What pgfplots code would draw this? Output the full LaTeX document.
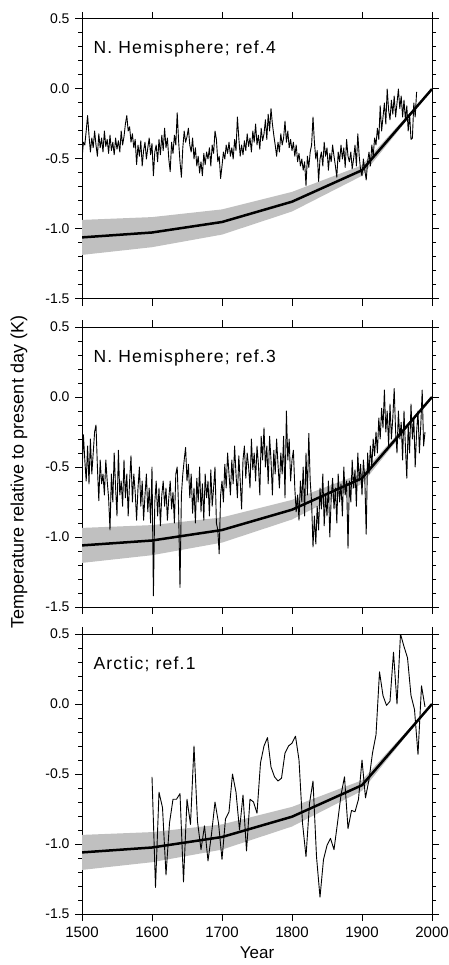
\documentclass[border=0pt]{standalone}
\usepackage{fontspec}
\setmainfont{Liberation Sans}
\newfontfamily\tagfont{Liberation Sans}[LetterSpace=7]
\usepackage{pgfplots}
\pgfplotsset{compat=1.18}
\definecolor{bandgray}{RGB}{192,192,192}

\pgfplotsset{
  panel/.style={
    scale only axis, width=350pt, height=280pt,
    anchor=north west,
    xmin=1500, xmax=2000, ymin=-1.5, ymax=0.5,
    xtick={1500,1600,1700,1800,1900,2000},
    ytick={-1.5,-1,-0.5,0,0.5},
    yticklabels={-1.5,-1.0,-0.5,0.0,0.5},
    minor y tick num=4,
    tick align=outside, tick pos=both,
    major tick length=7pt, minor tick length=4pt,
    tick style={black, line width=1pt},
    axis line style={line width=1pt},
    yticklabel style={font=\fontsize{14}{16}\selectfont, xshift=-2pt},
    xticklabel style={font=\fontsize{15}{17}\selectfont, yshift=-2pt},
  },
  band/.style={fill=bandgray, draw=none, forget plot},
  model/.style={black, line width=2.5pt, no marks},
  proxy/.style={black, line width=0.9pt, no marks, line join=round},
}
\tikzset{tag/.style={anchor=base west, xshift=8pt, yshift=-35pt, font=\tagfont\fontsize{17.5}{20}\selectfont}}

% model: mean and uncertainty band, the same in every panel
\newcommand{\modelband}{%
  \addplot[band] coordinates {
    (1500,-0.935) (1600,-0.915) (1700,-0.86) (1800,-0.735) (1900,-0.545) (1950,-0.27) (2000,0.0)
    (2000,0.0) (1950,-0.31) (1900,-0.62) (1800,-0.875) (1700,-1.04) (1600,-1.13) (1500,-1.185)
  } -- cycle;}
\newcommand{\modelline}{%
  \addplot[model] coordinates {
    (1500,-1.06) (1600,-1.025) (1700,-0.95) (1800,-0.805) (1900,-0.58) (2000,0.0)
  };}

\begin{document}
\begin{tikzpicture}
\useasboundingbox (0,0) rectangle (449pt,-965pt);

% ---- N. Hemisphere; ref.4
\begin{axis}[panel, at={(82pt,-19pt)}, xticklabels={}]
\modelband
\addplot[proxy] coordinates {
(1500,-0.50) (1502,-0.38) (1504,-0.40) (1506,-0.30) (1508,-0.19) (1510,-0.33) (1512,-0.45) (1514,-0.35) (1516,-0.42) (1518,-0.30)
(1520,-0.40) (1522,-0.48) (1524,-0.32) (1526,-0.42) (1528,-0.35) (1530,-0.45) (1532,-0.30) (1534,-0.41) (1536,-0.36) (1538,-0.46)
(1540,-0.33) (1542,-0.44) (1544,-0.38) (1546,-0.47) (1548,-0.35) (1550,-0.43) (1552,-0.37) (1554,-0.45) (1556,-0.30) (1558,-0.40)
(1560,-0.34) (1562,-0.25) (1564,-0.19) (1566,-0.30) (1568,-0.27) (1570,-0.38) (1572,-0.32) (1574,-0.42) (1576,-0.36) (1578,-0.54)
(1580,-0.40) (1582,-0.48) (1584,-0.37) (1586,-0.55) (1588,-0.44) (1590,-0.38) (1592,-0.50) (1594,-0.42) (1596,-0.35) (1598,-0.47)
(1600,-0.39) (1602,-0.62) (1604,-0.45) (1606,-0.40) (1608,-0.52) (1610,-0.36) (1612,-0.47) (1614,-0.33) (1616,-0.44) (1618,-0.28)
(1620,-0.42) (1622,-0.35) (1624,-0.50) (1626,-0.59) (1628,-0.38) (1630,-0.46) (1632,-0.33) (1634,-0.40) (1636,-0.17) (1638,-0.37)
(1640,-0.52) (1642,-0.63) (1644,-0.42) (1646,-0.30) (1648,-0.38) (1650,-0.34) (1652,-0.28) (1654,-0.40) (1656,-0.45) (1658,-0.35)
(1660,-0.50) (1662,-0.42) (1664,-0.55) (1666,-0.48) (1668,-0.60) (1670,-0.52) (1672,-0.62) (1674,-0.46) (1676,-0.54) (1678,-0.45)
(1680,-0.50) (1682,-0.42) (1684,-0.55) (1686,-0.40) (1688,-0.46) (1690,-0.30) (1692,-0.36) (1694,-0.52) (1696,-0.48) (1698,-0.64)
(1700,-0.55) (1702,-0.45) (1704,-0.50) (1706,-0.40) (1708,-0.46) (1710,-0.38) (1712,-0.48) (1714,-0.42) (1716,-0.50) (1718,-0.36)
(1720,-0.44) (1722,-0.20) (1724,-0.35) (1726,-0.48) (1728,-0.40) (1730,-0.47) (1732,-0.37) (1734,-0.44) (1736,-0.32) (1738,-0.41)
(1740,-0.35) (1742,-0.45) (1744,-0.30) (1746,-0.38) (1748,-0.25) (1750,-0.40) (1752,-0.33) (1754,-0.43) (1756,-0.28) (1758,-0.37)
(1760,-0.32) (1762,-0.22) (1764,-0.36) (1766,-0.18) (1768,-0.30) (1770,-0.14) (1772,-0.25) (1774,-0.33) (1776,-0.40) (1778,-0.48)
(1780,-0.38) (1782,-0.45) (1784,-0.32) (1786,-0.40) (1788,-0.35) (1790,-0.23) (1792,-0.38) (1794,-0.30) (1796,-0.42) (1798,-0.36)
(1800,-0.44) (1802,-0.38) (1804,-0.48) (1806,-0.40) (1808,-0.52) (1810,-0.46) (1812,-0.55) (1814,-0.50) (1816,-0.58) (1818,-0.52)
(1820,-0.69) (1822,-0.48) (1824,-0.56) (1826,-0.45) (1828,-0.40) (1830,-0.20) (1832,-0.38) (1834,-0.50) (1836,-0.44) (1838,-0.66)
(1840,-0.50) (1842,-0.45) (1844,-0.55) (1846,-0.38) (1848,-0.48) (1850,-0.42) (1852,-0.58) (1854,-0.46) (1856,-0.52) (1858,-0.40)
(1860,-0.48) (1862,-0.55) (1864,-0.63) (1866,-0.45) (1868,-0.52) (1870,-0.40) (1872,-0.50) (1874,-0.42) (1876,-0.56) (1878,-0.36)
(1880,-0.48) (1882,-0.52) (1884,-0.45) (1886,-0.57) (1888,-0.50) (1890,-0.40) (1892,-0.55) (1894,-0.32) (1896,-0.48) (1898,-0.58)
(1900,-0.62) (1902,-0.50) (1904,-0.58) (1906,-0.65) (1908,-0.52) (1910,-0.45) (1912,-0.55) (1914,-0.40) (1916,-0.48) (1918,-0.35)
(1920,-0.40) (1922,-0.28) (1924,-0.36) (1926,-0.12) (1928,-0.30) (1930,-0.20) (1932,-0.10) (1934,-0.25) (1936,0.00) (1938,-0.15)
(1940,-0.22) (1942,-0.08) (1944,-0.18) (1946,-0.05) (1948,-0.20) (1950,-0.10) (1952,0.00) (1954,-0.14) (1956,-0.05) (1958,-0.20)
(1960,-0.08) (1962,-0.22) (1964,-0.12) (1966,-0.30) (1968,-0.18) (1970,-0.36) (1972,-0.35) (1974,-0.10) (1976,-0.20) (1978,-0.02)
};
\modelline
\node[tag] at (rel axis cs:0,1) {N. Hemisphere; ref.4};
\end{axis}

% ---- N. Hemisphere; ref.3
\begin{axis}[panel, at={(82pt,-327pt)}, xticklabels={}]
\modelband
\addplot[proxy] coordinates {
(1500,-0.55) (1502,-0.27) (1504,-0.45) (1506,-0.60) (1508,-0.35) (1510,-0.62) (1512,-0.30) (1514,-0.55) (1516,-0.40) (1518,-0.25)
(1520,-0.20) (1522,-0.50) (1524,-0.74) (1526,-0.45) (1528,-0.62) (1530,-0.55) (1532,-0.70) (1534,-0.45) (1536,-0.60) (1538,-0.72)
(1540,-0.95) (1542,-0.55) (1544,-0.75) (1546,-0.40) (1548,-0.65) (1550,-0.85) (1552,-0.38) (1554,-0.70) (1556,-0.60) (1558,-0.78)
(1560,-0.45) (1562,-0.72) (1564,-0.55) (1566,-0.85) (1568,-0.60) (1570,-0.42) (1572,-0.75) (1574,-0.55) (1576,-0.68) (1578,-0.88)
(1580,-0.65) (1582,-0.50) (1584,-0.78) (1586,-0.60) (1588,-0.88) (1590,-0.70) (1592,-0.55) (1594,-0.82) (1596,-0.65) (1598,-0.90)
(1600,-0.50) (1602,-1.42) (1604,-0.75) (1606,-0.60) (1608,-0.85) (1610,-0.65) (1612,-0.92) (1614,-0.70) (1616,-0.60) (1618,-0.78)
(1620,-0.65) (1622,-0.88) (1624,-0.72) (1626,-0.60) (1628,-0.80) (1630,-0.68) (1632,-0.90) (1634,-0.55) (1636,-0.50) (1638,-0.80)
(1640,-1.36) (1642,-0.70) (1644,-0.55) (1646,-0.45) (1648,-0.36) (1650,-0.60) (1652,-0.48) (1654,-0.72) (1656,-0.55) (1658,-0.83)
(1660,-0.65) (1662,-0.90) (1664,-0.58) (1666,-0.75) (1668,-0.50) (1670,-0.82) (1672,-0.62) (1674,-0.88) (1676,-0.55) (1678,-0.72)
(1680,-0.60) (1682,-0.85) (1684,-0.52) (1686,-0.78) (1688,-0.65) (1690,-0.50) (1692,-0.90) (1694,-0.95) (1696,-1.12) (1698,-0.70)
(1700,-0.60) (1702,-0.75) (1704,-0.48) (1706,-0.65) (1708,-0.40) (1710,-0.55) (1712,-0.70) (1714,-0.45) (1716,-0.62) (1718,-0.35)
(1720,-0.55) (1722,-0.72) (1724,-0.42) (1726,-0.60) (1728,-0.80) (1730,-0.45) (1732,-0.35) (1734,-0.58) (1736,-0.40) (1738,-0.50)
(1740,-0.65) (1742,-0.30) (1744,-0.52) (1746,-0.40) (1748,-0.60) (1750,-0.35) (1752,-0.48) (1754,-0.70) (1756,-0.28) (1758,-0.45)
(1760,-0.22) (1762,-0.50) (1764,-0.35) (1766,-0.62) (1768,-0.28) (1770,-0.45) (1772,-0.70) (1774,-0.38) (1776,-0.55) (1778,-0.30)
(1780,-0.48) (1782,-0.65) (1784,-0.40) (1786,-0.55) (1788,-0.28) (1790,-0.72) (1792,-0.10) (1794,-0.45) (1796,-0.30) (1798,-0.60)
(1800,-0.45) (1802,-0.38) (1804,-0.65) (1806,-0.82) (1808,-0.70) (1810,-0.88) (1812,-0.60) (1814,-0.75) (1816,-0.50) (1818,-0.85)
(1820,-0.40) (1822,-0.70) (1824,-0.26) (1826,-0.60) (1828,-0.75) (1830,-1.07) (1832,-0.85) (1834,-1.05) (1836,-0.78) (1838,-0.95)
(1840,-0.65) (1842,-0.80) (1844,-0.55) (1846,-0.92) (1848,-0.70) (1850,-0.85) (1852,-0.60) (1854,-1.00) (1856,-0.72) (1858,-0.58)
(1860,-0.80) (1862,-0.65) (1864,-0.90) (1866,-0.55) (1868,-0.75) (1870,-0.62) (1872,-0.85) (1874,-0.50) (1876,-0.70) (1878,-0.60)
(1880,-1.08) (1882,-0.60) (1884,-0.75) (1886,-0.45) (1888,-0.65) (1890,-0.52) (1892,-0.78) (1894,-0.40) (1896,-0.60) (1898,-0.48)
(1900,-0.70) (1902,-0.45) (1904,-0.58) (1906,-0.98) (1908,-0.40) (1910,-0.55) (1912,-0.35) (1914,-0.50) (1916,-0.30) (1918,-0.42)
(1920,-0.25) (1922,-0.40) (1924,-0.15) (1926,-0.30) (1928,-0.08) (1930,-0.22) (1932,0.05) (1934,-0.25) (1936,-0.10) (1938,-0.35)
(1940,-0.05) (1942,-0.30) (1944,-0.15) (1946,0.06) (1948,-0.25) (1950,-0.40) (1952,-0.10) (1954,-0.30) (1956,-0.18) (1958,-0.45)
(1960,-0.10) (1962,-0.35) (1964,-0.58) (1966,-0.20) (1968,-0.40) (1970,-0.05) (1972,-0.30) (1974,-0.15) (1976,-0.50) (1978,-0.25)
(1980,-0.10) (1982,-0.40) (1984,-0.20) (1986,0.05) (1988,-0.35) (1990,-0.25)
};
\modelline
\node[tag] at (rel axis cs:0,1) {N. Hemisphere; ref.3};
\end{axis}

% ---- Arctic; ref.1
\begin{axis}[panel, at={(82pt,-634pt)},
  xticklabels={1500,1600,1700,1800,1900,2000},
  xlabel={Year},
  xlabel style={font=\fontsize{17}{19}\selectfont, yshift=-3pt}]
\modelband
\addplot[proxy] coordinates {
(1600,-0.52) (1605,-1.31) (1610,-0.63) (1615,-0.74) (1620,-1.22) (1625,-0.85) (1630,-0.68) (1635,-0.68) (1640,-0.64) (1645,-1.27)
(1650,-0.68) (1655,-0.86) (1660,-0.30) (1665,-0.84) (1670,-1.04) (1675,-0.87) (1680,-1.12) (1685,-0.93) (1690,-0.70) (1695,-0.85)
(1700,-1.11) (1705,-0.82) (1710,-0.77) (1715,-0.50) (1720,-0.63) (1725,-0.90) (1730,-0.65) (1735,-1.05) (1740,-0.68) (1745,-0.70)
(1750,-0.78) (1755,-0.42) (1760,-0.30) (1765,-0.24) (1770,-0.45) (1775,-0.52) (1780,-0.55) (1785,-0.53) (1790,-0.35) (1795,-0.30)
(1800,-0.28) (1805,-0.23) (1810,-0.40) (1815,-0.85) (1820,-1.09) (1825,-0.71) (1830,-0.55) (1835,-1.09) (1840,-1.38) (1845,-1.11)
(1850,-1.01) (1855,-0.96) (1860,-1.04) (1865,-0.85) (1870,-0.65) (1875,-0.52) (1880,-0.89) (1885,-0.76) (1890,-0.77) (1895,-0.68)
(1900,-0.40) (1905,-0.67) (1910,-0.54) (1915,-0.35) (1920,-0.22) (1925,0.23) (1930,0.06) (1935,-0.01) (1940,0.02) (1945,0.37)
(1950,0.00) (1955,0.50) (1960,0.41) (1965,0.33) (1970,0.06) (1975,-0.04) (1980,-0.36) (1985,0.13) (1990,-0.02)
};
\modelline
\node[tag] at (rel axis cs:0,1) {Arctic; ref.1};
\end{axis}

\node[rotate=90, font=\fontsize{18}{20}\selectfont] at (19pt,-472pt)
  {Temperature relative to present day (K)};
\end{tikzpicture}
\end{document}
